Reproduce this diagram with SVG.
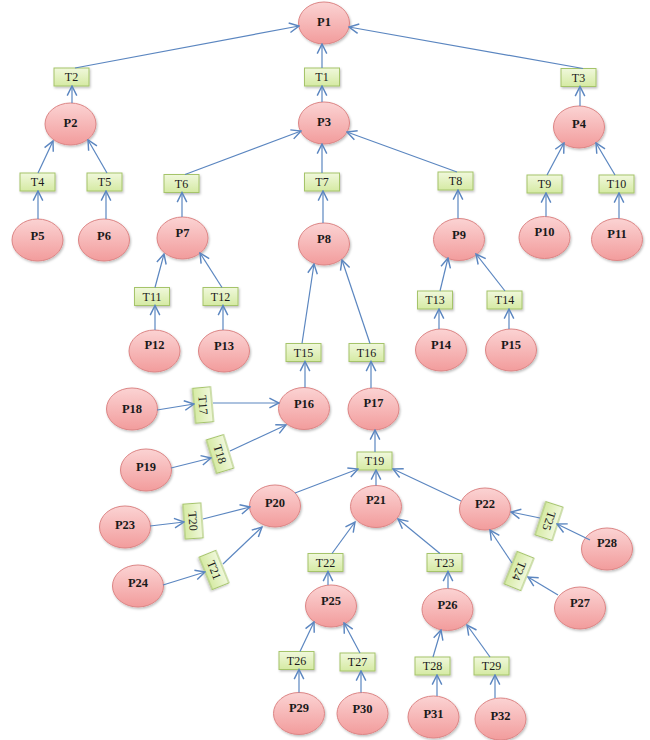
<svg xmlns="http://www.w3.org/2000/svg" width="650" height="740" viewBox="0 0 650 740">
<defs>
<linearGradient id="gp" x1="0" y1="0" x2="0" y2="1">
<stop offset="0" stop-color="#fbd3d3"/>
<stop offset="1" stop-color="#f29c9c"/>
</linearGradient>
<linearGradient id="gt" x1="0" y1="0" x2="0" y2="1">
<stop offset="0" stop-color="#f0f8dc"/>
<stop offset="1" stop-color="#d5eaa3"/>
</linearGradient>
<filter id="sh" x="-20%" y="-20%" width="150%" height="150%">
<feDropShadow dx="1" dy="1.5" stdDeviation="1" flood-color="#000" flood-opacity="0.25"/>
</filter>
<marker id="ar" markerUnits="userSpaceOnUse" markerWidth="12" markerHeight="12" viewBox="0 0 10 10" refX="9" refY="5" orient="auto">
<path d="M1,1 L9,5 L1,9" fill="none" stroke="#5b86c0" stroke-width="1.2"/>
</marker>
</defs>
<style>
.p ellipse{fill:url(#gp);stroke:#dc8585;stroke-width:1;filter:url(#sh)}
.p text{font-weight:bold;font-size:12.5px;fill:#1a1a1a;text-anchor:middle}
.t rect{fill:url(#gt);stroke:#a5c46a;stroke-width:1;filter:url(#sh)}
.t text{font-size:12px;fill:#1a1a1a;text-anchor:middle}
#edges line{stroke:#5b86c0;stroke-width:1.2;marker-end:url(#ar)}
</style>
<rect width="650" height="740" fill="#fff"/>
<g id="nodes" font-family="'Liberation Serif', 'DejaVu Serif', serif">
<g id="P1" class="p"><ellipse cx="324" cy="23" rx="25.5" ry="21"/><text x="324" y="26">P1</text></g>
<g id="P2" class="p"><ellipse cx="70.5" cy="124" rx="25.5" ry="21"/><text x="70.5" y="127">P2</text></g>
<g id="P3" class="p"><ellipse cx="324" cy="123" rx="25.5" ry="21"/><text x="324" y="126">P3</text></g>
<g id="P4" class="p"><ellipse cx="579" cy="127" rx="25.5" ry="21"/><text x="579" y="128">P4</text></g>
<g id="P5" class="p"><ellipse cx="37.5" cy="240" rx="25.5" ry="21"/><text x="37.5" y="240">P5</text></g>
<g id="P6" class="p"><ellipse cx="104" cy="240" rx="25.5" ry="21"/><text x="104" y="240">P6</text></g>
<g id="P7" class="p"><ellipse cx="182.5" cy="238" rx="25.5" ry="21"/><text x="182.5" y="237">P7</text></g>
<g id="P8" class="p"><ellipse cx="324" cy="244" rx="25.5" ry="21"/><text x="324" y="243">P8</text></g>
<g id="P9" class="p"><ellipse cx="459" cy="239.5" rx="25.5" ry="21"/><text x="459" y="239">P9</text></g>
<g id="P10" class="p"><ellipse cx="544.5" cy="237.5" rx="25.5" ry="21"/><text x="544.5" y="236">P10</text></g>
<g id="P11" class="p"><ellipse cx="617" cy="239.5" rx="25.5" ry="21"/><text x="617" y="238">P11</text></g>
<g id="P12" class="p"><ellipse cx="154.5" cy="351" rx="25.5" ry="21"/><text x="154.5" y="349">P12</text></g>
<g id="P13" class="p"><ellipse cx="224" cy="351" rx="25.5" ry="21"/><text x="224" y="350">P13</text></g>
<g id="P14" class="p"><ellipse cx="441" cy="350" rx="25.5" ry="21"/><text x="441" y="349">P14</text></g>
<g id="P15" class="p"><ellipse cx="511" cy="350" rx="25.5" ry="21"/><text x="511" y="349">P15</text></g>
<g id="P16" class="p"><ellipse cx="304" cy="408.5" rx="25.5" ry="21"/><text x="304" y="408">P16</text></g>
<g id="P17" class="p"><ellipse cx="373.5" cy="409" rx="25.5" ry="21"/><text x="373.5" y="407">P17</text></g>
<g id="P18" class="p"><ellipse cx="132" cy="409" rx="25.5" ry="21"/><text x="132" y="413">P18</text></g>
<g id="P19" class="p"><ellipse cx="146" cy="470" rx="25.5" ry="21"/><text x="146" y="471">P19</text></g>
<g id="P20" class="p"><ellipse cx="275" cy="506" rx="25.5" ry="21"/><text x="275" y="507">P20</text></g>
<g id="P21" class="p"><ellipse cx="376" cy="506.5" rx="25.5" ry="21"/><text x="376" y="504">P21</text></g>
<g id="P22" class="p"><ellipse cx="485" cy="509" rx="25.5" ry="21"/><text x="485" y="508">P22</text></g>
<g id="P23" class="p"><ellipse cx="125" cy="527" rx="25.5" ry="21"/><text x="125" y="529">P23</text></g>
<g id="P24" class="p"><ellipse cx="138" cy="586" rx="25.5" ry="21"/><text x="138" y="587">P24</text></g>
<g id="P25" class="p"><ellipse cx="331" cy="606" rx="25.5" ry="21"/><text x="331" y="605">P25</text></g>
<g id="P26" class="p"><ellipse cx="447.5" cy="609.5" rx="25.5" ry="21"/><text x="447.5" y="609">P26</text></g>
<g id="P27" class="p"><ellipse cx="580" cy="608" rx="25.5" ry="21"/><text x="580" y="607">P27</text></g>
<g id="P28" class="p"><ellipse cx="607" cy="549" rx="25.5" ry="21"/><text x="607" y="547">P28</text></g>
<g id="P29" class="p"><ellipse cx="299" cy="713.5" rx="25.5" ry="21"/><text x="299" y="712">P29</text></g>
<g id="P30" class="p"><ellipse cx="362.5" cy="713.5" rx="25.5" ry="21"/><text x="362.5" y="713">P30</text></g>
<g id="P31" class="p"><ellipse cx="433.5" cy="717" rx="25.5" ry="21"/><text x="433.5" y="718">P31</text></g>
<g id="P32" class="p"><ellipse cx="500.5" cy="719" rx="25.5" ry="21"/><text x="500.5" y="720">P32</text></g>

<g id="T1" class="t"><rect x="304.5" y="68" width="35" height="18"/><text x="322" y="81">T1</text></g>
<g id="T2" class="t"><rect x="54" y="68" width="35" height="18"/><text x="71.5" y="81">T2</text></g>
<g id="T3" class="t"><rect x="561" y="68.5" width="35" height="18"/><text x="578.5" y="81.5">T3</text></g>
<g id="T4" class="t"><rect x="20" y="173" width="35" height="18"/><text x="37.5" y="186">T4</text></g>
<g id="T5" class="t"><rect x="87" y="173" width="35" height="18"/><text x="104.5" y="186">T5</text></g>
<g id="T6" class="t"><rect x="164" y="174.5" width="35" height="18"/><text x="181.5" y="187.5">T6</text></g>
<g id="T7" class="t"><rect x="304.5" y="173" width="35" height="18"/><text x="322" y="186">T7</text></g>
<g id="T8" class="t"><rect x="438" y="172" width="35" height="18"/><text x="455.5" y="185">T8</text></g>
<g id="T9" class="t"><rect x="527" y="175" width="35" height="18"/><text x="544.5" y="188">T9</text></g>
<g id="T10" class="t"><rect x="599" y="175" width="35" height="18"/><text x="616.5" y="188">T10</text></g>
<g id="T11" class="t"><rect x="134.5" y="287.5" width="35" height="18"/><text x="152" y="300.5">T11</text></g>
<g id="T12" class="t"><rect x="203" y="287.5" width="35" height="18"/><text x="220.5" y="300.5">T12</text></g>
<g id="T13" class="t"><rect x="417.5" y="291" width="35" height="18"/><text x="435" y="304">T13</text></g>
<g id="T14" class="t"><rect x="487" y="291" width="35" height="18"/><text x="504.5" y="304">T14</text></g>
<g id="T15" class="t"><rect x="286" y="343.5" width="35" height="18"/><text x="303.5" y="356.5">T15</text></g>
<g id="T16" class="t"><rect x="349" y="343.5" width="35" height="18"/><text x="366.5" y="356.5">T16</text></g>
<g id="T17" class="t" transform="translate(203,405) rotate(85)"><rect x="-17.5" y="-9" width="35" height="18"/><text x="0" y="4">T17</text></g>
<g id="T18" class="t" transform="translate(220,454) rotate(73)"><rect x="-17.5" y="-9" width="35" height="18"/><text x="0" y="4">T18</text></g>
<g id="T19" class="t"><rect x="357" y="452" width="35" height="18"/><text x="374.5" y="465">T19</text></g>
<g id="T20" class="t" transform="translate(193,521) rotate(86)"><rect x="-17.5" y="-9" width="35" height="18"/><text x="0" y="4">T20</text></g>
<g id="T21" class="t" transform="translate(214,570) rotate(68)"><rect x="-17.5" y="-9" width="35" height="18"/><text x="0" y="4">T21</text></g>
<g id="T22" class="t"><rect x="308" y="553.5" width="35" height="18"/><text x="325.5" y="566.5">T22</text></g>
<g id="T23" class="t"><rect x="427" y="553.5" width="35" height="18"/><text x="444.5" y="566.5">T23</text></g>
<g id="T24" class="t" transform="translate(519,571) rotate(112)"><rect x="-17.5" y="-9" width="35" height="18"/><text x="0" y="4">T24</text></g>
<g id="T25" class="t" transform="translate(549,521) rotate(108)"><rect x="-17.5" y="-9" width="35" height="18"/><text x="0" y="4">T25</text></g>
<g id="T26" class="t"><rect x="279" y="651.5" width="35" height="18"/><text x="296.5" y="664.5">T26</text></g>
<g id="T27" class="t"><rect x="340" y="653" width="35" height="18"/><text x="357.5" y="666">T27</text></g>
<g id="T28" class="t"><rect x="415" y="657" width="35" height="18"/><text x="432.5" y="670">T28</text></g>
<g id="T29" class="t"><rect x="474" y="657" width="35" height="18"/><text x="491.5" y="670">T29</text></g>
</g>
<g id="edges">
<line x1="72" y1="103" x2="72" y2="86"/>
<line x1="75" y1="68" x2="299" y2="26"/>
<line x1="322" y1="68" x2="322" y2="44"/>
<line x1="322" y1="102" x2="322" y2="86"/>
<line x1="583" y1="68.5" x2="349" y2="27"/>
<line x1="580" y1="106" x2="580" y2="86.5"/>
<line x1="38" y1="173" x2="53" y2="141"/>
<line x1="107" y1="173" x2="88" y2="140"/>
<line x1="38" y1="219" x2="38" y2="191"/>
<line x1="106" y1="219" x2="106" y2="191"/>
<line x1="185" y1="174.5" x2="301" y2="131"/>
<line x1="322" y1="173" x2="322" y2="144"/>
<line x1="457" y1="172" x2="347" y2="132"/>
<line x1="182" y1="217" x2="182" y2="192.5"/>
<line x1="323" y1="223" x2="323" y2="191"/>
<line x1="458" y1="218.5" x2="458" y2="190"/>
<line x1="547" y1="175" x2="564" y2="143"/>
<line x1="615" y1="175" x2="596" y2="143"/>
<line x1="546" y1="216.5" x2="546" y2="193"/>
<line x1="619" y1="218.5" x2="619" y2="193"/>
<line x1="155" y1="287.5" x2="164" y2="254"/>
<line x1="222" y1="287.5" x2="200" y2="253"/>
<line x1="155" y1="330" x2="155" y2="305.5"/>
<line x1="223" y1="330" x2="223" y2="305.5"/>
<line x1="440" y1="291" x2="448" y2="258"/>
<line x1="505" y1="291" x2="476" y2="254"/>
<line x1="439" y1="329" x2="439" y2="309"/>
<line x1="509" y1="329" x2="509" y2="309"/>
<line x1="302" y1="343.5" x2="314" y2="264"/>
<line x1="370" y1="343.5" x2="342" y2="260"/>
<line x1="305" y1="387.5" x2="305" y2="361.5"/>
<line x1="371" y1="388" x2="371" y2="361.5"/>
<line x1="157" y1="410" x2="194" y2="404"/>
<line x1="213" y1="403" x2="279" y2="403"/>
<line x1="171" y1="468" x2="211" y2="458"/>
<line x1="230" y1="451" x2="286" y2="425"/>
<line x1="375" y1="452" x2="375" y2="430"/>
<line x1="295" y1="493" x2="358" y2="469"/>
<line x1="376" y1="485.5" x2="376" y2="470"/>
<line x1="461" y1="501" x2="393" y2="469"/>
<line x1="150" y1="526" x2="184" y2="522"/>
<line x1="203" y1="519" x2="250" y2="507"/>
<line x1="163" y1="585" x2="205" y2="572"/>
<line x1="223" y1="564" x2="262" y2="527"/>
<line x1="332" y1="553.5" x2="355" y2="522"/>
<line x1="440" y1="553.5" x2="398" y2="519"/>
<line x1="328" y1="585" x2="328" y2="571.5"/>
<line x1="448" y1="588.5" x2="448" y2="571.5"/>
<line x1="590" y1="540" x2="557" y2="524"/>
<line x1="540" y1="518" x2="511" y2="512"/>
<line x1="558" y1="595" x2="528" y2="577"/>
<line x1="512" y1="563" x2="490" y2="530"/>
<line x1="300" y1="651.5" x2="314" y2="622"/>
<line x1="360" y1="653" x2="344" y2="623"/>
<line x1="433" y1="657" x2="441" y2="630"/>
<line x1="490" y1="657" x2="467" y2="625"/>
<line x1="299" y1="692.5" x2="299" y2="669.5"/>
<line x1="361" y1="692.5" x2="361" y2="671"/>
<line x1="437" y1="696" x2="437" y2="675"/>
<line x1="495" y1="698" x2="495" y2="675"/>
</g>
</svg>
